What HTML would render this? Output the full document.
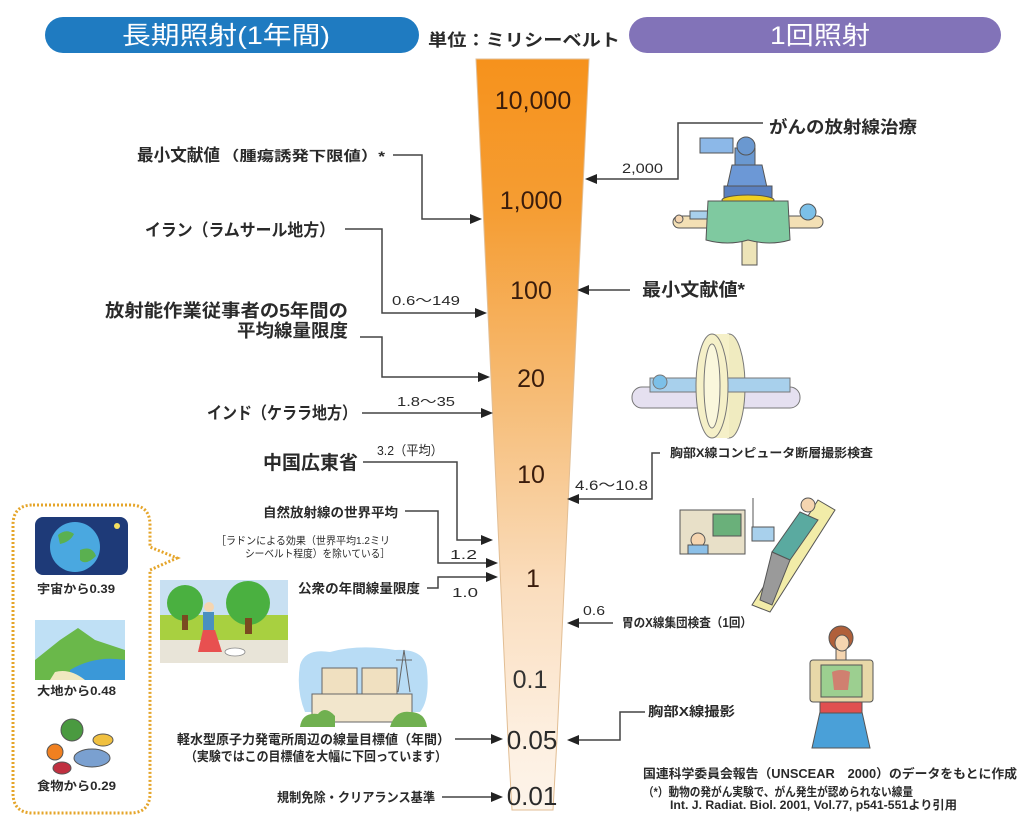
<!DOCTYPE html>
<html><head><meta charset="utf-8">
<style>
html,body{margin:0;padding:0;background:#fff;}
svg{display:block;}
text{font-family:"Liberation Sans","Noto Sans CJK JP",sans-serif;fill:#2a2a2a;}
.b{font-weight:700;}
.n{fill:#3a1c0c;font-family:"Liberation Sans",sans-serif;}
</style></head><body>
<svg width="1036" height="836" viewBox="0 0 1036 836" xmlns="http://www.w3.org/2000/svg">
<defs>
<linearGradient id="fg" x1="0" y1="59" x2="0" y2="812" gradientUnits="userSpaceOnUse">
<stop offset="0" stop-color="#F6921C"/>
<stop offset="0.2" stop-color="#F59D33"/>
<stop offset="0.45" stop-color="#F6BC76"/>
<stop offset="0.7" stop-color="#FADDBD"/>
<stop offset="0.9" stop-color="#FDEFE0"/>
<stop offset="1" stop-color="#FDF4EA"/>
</linearGradient>
</defs>

<!-- header pills -->
<rect x="45" y="17" width="374" height="36" rx="18" fill="#1F7BC1"/>
<text x="122" y="44" font-size="25" textLength="208" lengthAdjust="spacingAndGlyphs" style="fill:#fff">長期照射(1年間)</text>
<rect x="629" y="17" width="372" height="36" rx="18" fill="#8273B8"/>
<text x="770" y="44" font-size="25" textLength="100" lengthAdjust="spacingAndGlyphs" style="fill:#fff">1回照射</text>
<text x="428" y="46" font-size="17" class="b" textLength="192" lengthAdjust="spacingAndGlyphs">単位：ミリシーベルト</text>

<!-- funnel -->
<path d="M476,59 L589,59 L557,739 L553,810 L512,810 L508,739 Z" fill="url(#fg)" stroke="#E2BE94" stroke-width="1"/>
<g text-anchor="middle">
<text class="n" x="533" y="109" font-size="25">10,000</text>
<text class="n" x="531" y="209" font-size="25">1,000</text>
<text class="n" x="531" y="299" font-size="25">100</text>
<text class="n" x="531" y="387" font-size="25">20</text>
<text class="n" x="531" y="483" font-size="25">10</text>
<text class="n" x="533" y="587" font-size="25">1</text>
<text class="n" x="530" y="688" font-size="25" style="fill:#333">0.1</text>
<text class="n" x="532" y="749" font-size="26" style="fill:#2a2a2a">0.05</text>
<text class="n" x="532" y="805" font-size="26" style="fill:#2a2a2a">0.01</text>
</g>

<!-- left connectors -->
<g fill="none" stroke="#444" stroke-width="1.5">
<path d="M393,155 H422 V219 H472"/>
<path d="M345,229 H382 V313 H477"/>
<path d="M360,337 H382 V377 H480"/>
<path d="M362,413 H483"/>
<path d="M363,462 H457 V540 H483"/>
<path d="M405,511 H438 V563 H488"/>
<path d="M427,588 H438 V577 H488"/>
<path d="M455,739 H493"/>
<path d="M442,797 H493"/>
<!-- right -->
<path d="M763,123 H678 V179 H595"/>
<path d="M630,290 H587"/>
<path d="M660,453 H652 V499 H577"/>
<path d="M613,623 H577"/>
<path d="M645,712 H620 V740 H577"/>
</g>
<g fill="#222">
<polygon points="482,219 470,214 470,224"/>
<polygon points="487,313 475,308 475,318"/>
<polygon points="490,377 478,372 478,382"/>
<polygon points="493,413 481,408 481,418"/>
<polygon points="493,540 481,535 481,545"/>
<polygon points="498,563 486,558 486,568"/>
<polygon points="498,577 486,572 486,582"/>
<polygon points="503,739 491,734 491,744"/>
<polygon points="503,797 491,792 491,802"/>
<polygon points="585,179 597,174 597,184"/>
<polygon points="577,290 589,285 589,295"/>
<polygon points="567,499 579,494 579,504"/>
<polygon points="567,623 579,618 579,628"/>
<polygon points="567,740 579,735 579,745"/>
</g>

<!-- left labels -->
<text x="137" y="161" font-size="17" class="b" textLength="83" lengthAdjust="spacingAndGlyphs">最小文献値</text>
<text x="222" y="161" font-size="14" class="b" textLength="163" lengthAdjust="spacingAndGlyphs">（腫瘍誘発下限値）*</text>
<text x="145" y="236" font-size="17" class="b" textLength="190" lengthAdjust="spacingAndGlyphs">イラン（ラムサール地方）</text>
<text x="392" y="305" font-size="13" textLength="68" lengthAdjust="spacingAndGlyphs">0.6〜149</text>
<text x="105" y="317" font-size="18" class="b" textLength="243" lengthAdjust="spacingAndGlyphs">放射能作業従事者の5年間の</text>
<text x="237" y="337" font-size="18" class="b" textLength="111" lengthAdjust="spacingAndGlyphs">平均線量限度</text>
<text x="397" y="406" font-size="13" textLength="58" lengthAdjust="spacingAndGlyphs">1.8〜35</text>
<text x="207" y="419" font-size="17" class="b" textLength="150" lengthAdjust="spacingAndGlyphs">インド（ケララ地方）</text>
<text x="377" y="455" font-size="13" textLength="66" lengthAdjust="spacingAndGlyphs">3.2（平均）</text>
<text x="263" y="469" font-size="19" class="b" textLength="95" lengthAdjust="spacingAndGlyphs">中国広東省</text>
<text x="263" y="517" font-size="13" class="b" textLength="135" lengthAdjust="spacingAndGlyphs">自然放射線の世界平均</text>
<text x="216" y="544" font-size="10.5" textLength="174" lengthAdjust="spacingAndGlyphs">［ラドンによる効果（世界平均1.2ミリ</text>
<text x="245" y="557" font-size="10.5" textLength="145" lengthAdjust="spacingAndGlyphs">シーベルト程度）を除いている］</text>
<text x="450" y="559" font-size="13" textLength="27" lengthAdjust="spacingAndGlyphs">1.2</text>
<text x="298" y="593" font-size="13" class="b" textLength="122" lengthAdjust="spacingAndGlyphs">公衆の年間線量限度</text>
<text x="452" y="597" font-size="13" textLength="26" lengthAdjust="spacingAndGlyphs">1.0</text>
<text x="177" y="744" font-size="13" class="b" textLength="273" lengthAdjust="spacingAndGlyphs">軽水型原子力発電所周辺の線量目標値（年間）</text>
<text x="185" y="761" font-size="13" class="b" textLength="262" lengthAdjust="spacingAndGlyphs">（実験ではこの目標値を大幅に下回っています）</text>
<text x="277" y="802" font-size="13" class="b" textLength="158" lengthAdjust="spacingAndGlyphs">規制免除・クリアランス基準</text>

<!-- right labels -->
<text x="769" y="133" font-size="17" class="b" textLength="148" lengthAdjust="spacingAndGlyphs">がんの放射線治療</text>
<text x="622" y="173" font-size="14" textLength="41" lengthAdjust="spacingAndGlyphs">2,000</text>
<text x="642" y="296" font-size="18" class="b" textLength="103" lengthAdjust="spacingAndGlyphs">最小文献値*</text>
<text x="670" y="457" font-size="12" class="b" textLength="203" lengthAdjust="spacingAndGlyphs">胸部X線コンピュータ断層撮影検査</text>
<text x="575" y="490" font-size="14" textLength="73" lengthAdjust="spacingAndGlyphs">4.6〜10.8</text>
<text x="583" y="615" font-size="13" textLength="22" lengthAdjust="spacingAndGlyphs">0.6</text>
<text x="622" y="627" font-size="12.5" class="b" textLength="130" lengthAdjust="spacingAndGlyphs">胃のX線集団検査（1回）</text>
<text x="648" y="716" font-size="13" class="b" textLength="87" lengthAdjust="spacingAndGlyphs">胸部X線撮影</text>
<text x="643" y="778" font-size="12.5" class="b" textLength="374" lengthAdjust="spacingAndGlyphs">国連科学委員会報告（UNSCEAR　2000）のデータをもとに作成</text>
<text x="643" y="796" font-size="12" class="b" textLength="270" lengthAdjust="spacingAndGlyphs">（*）動物の発がん実験で、がん発生が認められない線量</text>
<text x="670" y="809" font-size="12" class="b" textLength="287" lengthAdjust="spacingAndGlyphs">Int. J. Radiat. Biol. 2001, Vol.77, p541-551より引用</text>

<!-- radiotherapy illustration -->
<g stroke="#555" stroke-width="1">
<rect x="742" y="240" width="15" height="25" fill="#EDE4B8"/>
<rect x="673" y="216" width="150" height="12" rx="6" fill="#F3E0B5"/>
<circle cx="679" cy="219" r="4" fill="#F5D5B0"/>
<circle cx="808" cy="212" r="8" fill="#7CC0E8"/>
<rect x="690" y="211" width="22" height="8" fill="#A8D0EC"/>
<rect x="700" y="138" width="33" height="15" fill="#8CB8E8"/>
<rect x="735" y="148" width="20" height="20" fill="#6A98D0"/>
<circle cx="746" cy="146" r="9" fill="#6A98D0"/>
<path d="M732,165 H762 L768,192 H726 Z" fill="#6C98D6"/>
<rect x="724" y="186" width="48" height="12" fill="#5A80C0"/>
<ellipse cx="748" cy="200" rx="26" ry="5" fill="#F0D020"/>
<path d="M708,201 H788 L790,240 Q770,246 748,240 Q728,246 706,240 Z" fill="#7FC9A0"/>
</g>

<!-- CT illustration -->
<g stroke="#777" stroke-width="1">
<rect x="632" y="387" width="168" height="21" rx="10" fill="#E5E0F0"/>
<ellipse cx="729" cy="386" rx="16" ry="52" fill="#F0EBC0"/>
<rect x="712" y="334" width="17" height="104" fill="#F5F0C8" stroke="none"/>
<path d="M650,378 H790 V392 H650 Z" fill="#A8D0EC"/>
<circle cx="660" cy="382" r="7" fill="#7CC0E8"/>
<ellipse cx="712" cy="386" rx="16" ry="52" fill="#F5F0C8"/>
<ellipse cx="712" cy="386" rx="8" ry="42" fill="#FAF7DC"/>
</g>

<!-- X-ray room illustration -->
<g stroke="#555" stroke-width="1">
<rect x="680" y="510" width="65" height="44" fill="#E8E0C8"/>
<rect x="713" y="514" width="28" height="22" fill="#6AB07A"/>
<circle cx="698" cy="540" r="7" fill="#F5D5B0"/>
<rect x="688" y="545" width="20" height="9" fill="#8CC0E8"/>
<line x1="753" y1="498" x2="753" y2="530"/>
<polygon points="818,500 835,510 770,612 752,605" fill="#F2ECA8"/>
<polygon points="800,512 818,520 790,560 772,552" fill="#5AAAA0"/>
<rect x="752" y="527" width="22" height="14" fill="#A8D0EC"/>
<polygon points="772,552 790,560 772,605 760,600" fill="#9A9A9A"/>
<circle cx="808" cy="505" r="7" fill="#F5D5B0"/>
</g>

<!-- woman with chest x-ray -->
<g stroke="#555" stroke-width="1">
<polygon points="820,712 862,712 870,748 812,748" fill="#4AA0D8"/>
<rect x="820" y="698" width="42" height="15" fill="#E05050"/>
<rect x="836" y="648" width="10" height="14" fill="#F5D5B0"/>
<circle cx="841" cy="638" r="12" fill="#B0603A"/>
<ellipse cx="842" cy="643" rx="7" ry="8" fill="#F5D5B0"/>
<rect x="810" y="660" width="63" height="42" rx="3" fill="#E8D8A8"/>
<rect x="821" y="665" width="41" height="32" fill="#9CCF90"/>
<path d="M832,672 Q841,668 850,672 L848,690 H834 Z" fill="#D08070" stroke="none"/>
</g>

<!-- bubble -->
<path d="M33,505 H130 Q150,505 150,525 V547 L177,558 L150,570 V793 Q150,813 130,813 H33 Q13,813 13,793 V525 Q13,505 33,505 Z" fill="#fff" stroke="#E5A52A" stroke-width="3" stroke-dasharray="2 2"/>
<rect x="35" y="517" width="93" height="58" rx="8" fill="#1E3A78"/>
<circle cx="75" cy="547" r="25" fill="#4AA8E0"/>
<path d="M58,535 Q66,528 74,534 Q70,542 60,544 Z M80,550 Q92,545 96,556 Q86,566 80,560 Z" fill="#5AB050"/>
<circle cx="117" cy="526" r="3" fill="#F5E060"/>
<text x="37" y="593" font-size="12" class="b" textLength="78" lengthAdjust="spacingAndGlyphs">宇宙から0.39</text>
<rect x="35" y="620" width="90" height="60" fill="#BFE0F5"/>
<path d="M35,660 L60,640 L78,628 L95,640 L125,650 V680 H35 Z" fill="#6AB84A"/>
<path d="M70,670 Q95,655 125,660 V680 H70 Z" fill="#3A98D8"/>
<path d="M55,672 Q70,668 85,680 H50 Z" fill="#F0E8C0"/>
<text x="37" y="695" font-size="12" class="b" textLength="79" lengthAdjust="spacingAndGlyphs">大地から0.48</text>
<g stroke="#555" stroke-width="1">
<circle cx="72" cy="730" r="11" fill="#4A9A40"/>
<circle cx="55" cy="752" r="8" fill="#F08020"/>
<ellipse cx="62" cy="768" rx="9" ry="6" fill="#C03040"/>
<ellipse cx="92" cy="758" rx="18" ry="9" fill="#7AA0D0"/>
<ellipse cx="103" cy="740" rx="10" ry="6" fill="#F0C040"/>
</g>
<text x="37" y="790" font-size="12" class="b" textLength="79" lengthAdjust="spacingAndGlyphs">食物から0.29</text>

<!-- park illustration -->
<rect x="160" y="580" width="128" height="40" fill="#C8E0F2"/>
<rect x="160" y="615" width="128" height="30" fill="#A8D040"/>
<rect x="160" y="640" width="128" height="23" fill="#E8E4D8"/>
<circle cx="185" cy="603" r="18" fill="#4AB040"/>
<circle cx="248" cy="603" r="22" fill="#4AB040"/>
<rect x="182" y="615" width="6" height="15" fill="#7A4A20"/>
<rect x="245" y="618" width="7" height="16" fill="#7A4A20"/>
<polygon points="203,630 215,630 222,652 198,652" fill="#E85050"/>
<rect x="203" y="612" width="11" height="18" fill="#4A90C0"/>
<circle cx="209" cy="607" r="5" fill="#F5D5B0"/>
<ellipse cx="235" cy="652" rx="10" ry="4" fill="#fff" stroke="#888" stroke-width="0.8"/>

<!-- nuclear plant illustration -->
<path d="M300,665 Q305,648 330,652 Q360,644 395,650 Q425,648 427,670 Q430,700 420,712 H305 Q296,690 300,665 Z" fill="#B8DCF5"/>
<g stroke="#666" stroke-width="1">
<rect x="322" y="668" width="35" height="28" fill="#F0E0C0"/>
<rect x="362" y="668" width="35" height="28" fill="#F0E0C0"/>
<rect x="312" y="694" width="100" height="28" fill="#F2E6CC"/>
<path d="M404,650 L398,692 M404,650 L410,692 M396,660 H412" fill="none"/>
</g>
<path d="M300,727 Q302,712 318,714 Q325,705 335,716 L335,727 Z M390,727 Q395,710 410,712 Q425,712 427,727 Z" fill="#70B050"/>

</svg>
</body></html>
